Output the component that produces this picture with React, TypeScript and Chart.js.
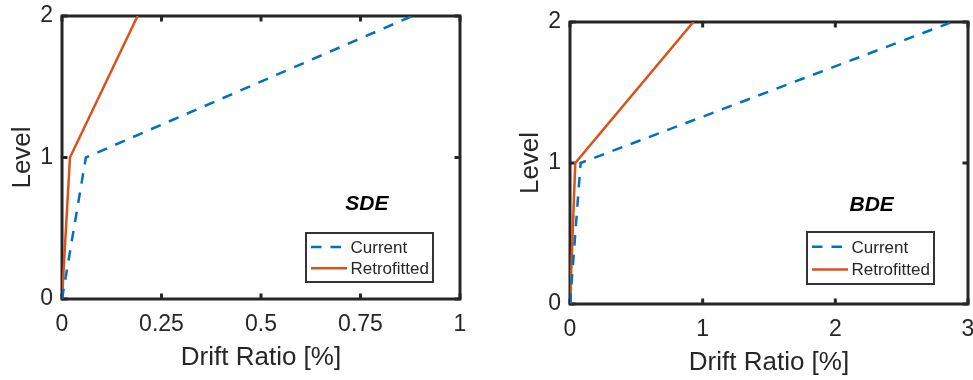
import React, { useEffect, useRef } from "react";
import { Chart, registerables } from "chart.js";

Chart.register(...registerables);

// Storey levels and peak inter-storey drift ratios [%]
const levels = [0, 1, 2];
const sdeCurrent = [0, 0.06, 0.88];
const sdeRetrofitted = [0, 0.02, 0.19];
const bdeCurrent = [0, 0.08, 2.88];
const bdeRetrofitted = [0, 0.04, 0.93];
const seriesNames = ["Current", "Retrofitted"];
const xTitle = "Drift Ratio [%]";
const yTitle = "Level";

const FONT = "'Liberation Sans', Arial, Helvetica, sans-serif";
const INK = "#262626";
const BLUE = "#0072BD";
const ORANGE = "#D95319";
const DASH = [10.5, 9];

type Panel = {
  tag: string;
  current: number[];
  retro: number[];
  xMax: number;
  xStep: number;
  tagAt: [number, number];
  canvasLeft: number;
  canvasWidth: number;
  padTop: number;
  padRight: number;
  yWidth: number;
  xHeight: number;
  yTitlePad: number;
  xTitlePad: number;
  legend: { right: number; bottom: number; w: number; h: number };
};

const panels: Panel[] = [
  {
    tag: "SDE",
    current: sdeCurrent,
    retro: sdeRetrofitted,
    xMax: 1,
    xStep: 0.25,
    tagAt: [0.766, 0.67],
    canvasLeft: 0,
    canvasWidth: 486,
    padTop: 16,
    padRight: 26,
    yWidth: 62,
    xHeight: 81,
    yTitlePad: 7,
    xTitlePad: 7,
    legend: { right: 27, bottom: 17, w: 127, h: 49 },
  },
  {
    tag: "BDE",
    current: bdeCurrent,
    retro: bdeRetrofitted,
    xMax: 3,
    xStep: 1,
    tagAt: [2.274, 0.7],
    canvasLeft: 486,
    canvasWidth: 487,
    padTop: 22,
    padRight: 5,
    yWidth: 84,
    xHeight: 76,
    yTitlePad: 29,
    xTitlePad: 2,
    legend: { right: 34, bottom: 20, w: 127, h: 52 },
  },
];

const fmtTick = (v: number | string) => String(Number(Number(v).toFixed(2)));

// Axes box with inward ticks on all four sides
const framePlugin = {
  id: "frame",
  beforeDatasetsDraw(chart: any) {
    const { ctx, chartArea: a, scales } = chart;
    ctx.save();
    ctx.strokeStyle = INK;
    ctx.lineWidth = 3;
    ctx.strokeRect(a.left, a.top, a.right - a.left, a.bottom - a.top);
    const len = 5.5;
    ctx.beginPath();
    for (const t of scales.x.ticks) {
      const px = scales.x.getPixelForValue(t.value);
      ctx.moveTo(px, a.bottom);
      ctx.lineTo(px, a.bottom - len);
      ctx.moveTo(px, a.top);
      ctx.lineTo(px, a.top + len);
    }
    for (const t of scales.y.ticks) {
      const py = scales.y.getPixelForValue(t.value);
      ctx.moveTo(a.left, py);
      ctx.lineTo(a.left + len, py);
      ctx.moveTo(a.right, py);
      ctx.lineTo(a.right - len, py);
    }
    ctx.stroke();
    ctx.restore();
  },
  afterDraw(chart: any) {
    const { ctx, chartArea: a, scales } = chart;
    const p: Panel = chart.options.plugins.frame.panel;
    ctx.save();
    // load-case tag
    ctx.fillStyle = "#000";
    ctx.font = `italic bold 21px ${FONT}`;
    ctx.textAlign = "center";
    ctx.textBaseline = "middle";
    ctx.fillText(p.tag, scales.x.getPixelForValue(p.tagAt[0]), scales.y.getPixelForValue(p.tagAt[1]));

    // legend
    const L = p.legend;
    const bx = a.right - L.right - L.w;
    const by = a.bottom - L.bottom - L.h;
    ctx.fillStyle = "#fff";
    ctx.fillRect(bx, by, L.w, L.h);
    ctx.strokeStyle = "#333";
    ctx.lineWidth = 2;
    ctx.strokeRect(bx, by, L.w, L.h);
    const rows = [by + L.h * 0.285, by + L.h * 0.72];
    const styles = [
      { color: BLUE, dash: DASH },
      { color: ORANGE, dash: [] as number[] },
    ];
    ctx.font = `17px ${FONT}`;
    ctx.textAlign = "left";
    rows.forEach((ry, i) => {
      ctx.strokeStyle = styles[i].color;
      ctx.lineWidth = 2.5;
      ctx.setLineDash(styles[i].dash);
      ctx.beginPath();
      ctx.moveTo(bx + 5, ry);
      ctx.lineTo(bx + 41, ry);
      ctx.stroke();
      ctx.setLineDash([]);
      ctx.fillStyle = INK;
      ctx.fillText(seriesNames[i], bx + 44.5, ry + 1);
    });
    ctx.restore();
  },
};

function DriftPanel({ p }: { p: Panel }) {
  const ref = useRef<HTMLCanvasElement | null>(null);
  useEffect(() => {
    if (!ref.current) return;
    const toPts = (xs: number[]) => xs.map((x, i) => ({ x, y: levels[i] }));
    const chart = new Chart(ref.current, {
      type: "scatter",
      data: {
        datasets: [
          {
            label: seriesNames[0],
            data: toPts(p.current),
            showLine: true,
            borderColor: BLUE,
            borderWidth: 2.5,
            borderDash: DASH,
            pointRadius: 0,
          },
          {
            label: seriesNames[1],
            data: toPts(p.retro),
            showLine: true,
            borderColor: ORANGE,
            borderWidth: 2.5,
            pointRadius: 0,
          },
        ],
      },
      options: {
        animation: false,
        responsive: false,
        layout: { padding: { top: p.padTop, right: p.padRight, left: 0, bottom: 0 } },
        plugins: {
          legend: { display: false },
          tooltip: { enabled: false },
          frame: { panel: p },
        } as any,
        scales: {
          x: {
            type: "linear",
            min: 0,
            max: p.xMax,
            grid: { display: false, drawTicks: false },
            border: { display: false },
            ticks: {
              stepSize: p.xStep,
              color: INK,
              padding: 12,
              maxRotation: 0,
              font: { family: FONT, size: 23 },
              callback: (v: any) => fmtTick(v),
            },
            title: {
              display: true,
              text: xTitle,
              color: INK,
              padding: { top: 2, bottom: p.xTitlePad },
              font: { family: FONT, size: 26 },
            },
            afterFit(s: any) {
              s.height = p.xHeight;
              s.paddingLeft = 0;
              s.paddingRight = 0;
            },
          },
          y: {
            type: "linear",
            min: 0,
            max: 2,
            grid: { display: false, drawTicks: false },
            border: { display: false },
            ticks: {
              stepSize: 1,
              color: INK,
              padding: 9,
              font: { family: FONT, size: 23 },
              callback: (v: any) => fmtTick(v),
            },
            title: {
              display: true,
              text: yTitle,
              color: INK,
              padding: { top: p.yTitlePad, bottom: 0 },
              font: { family: FONT, size: 26 },
            },
            afterFit(s: any) {
              s.width = p.yWidth;
              s.paddingTop = 0;
              s.paddingBottom = 0;
            },
          },
        },
      },
      plugins: [framePlugin],
    });
    return () => chart.destroy();
  }, [p]);
  return (
    <canvas
      ref={ref}
      width={p.canvasWidth}
      height={380}
      style={{ position: "absolute", left: p.canvasLeft, top: 0, width: p.canvasWidth, height: 380 }}
    />
  );
}

export default function App() {
  return (
    <div style={{ position: "fixed", left: 0, top: 0, width: 973, height: 380, background: "#fff" }}>
      {panels.map((p) => (
        <DriftPanel key={p.tag} p={p} />
      ))}
    </div>
  );
}
